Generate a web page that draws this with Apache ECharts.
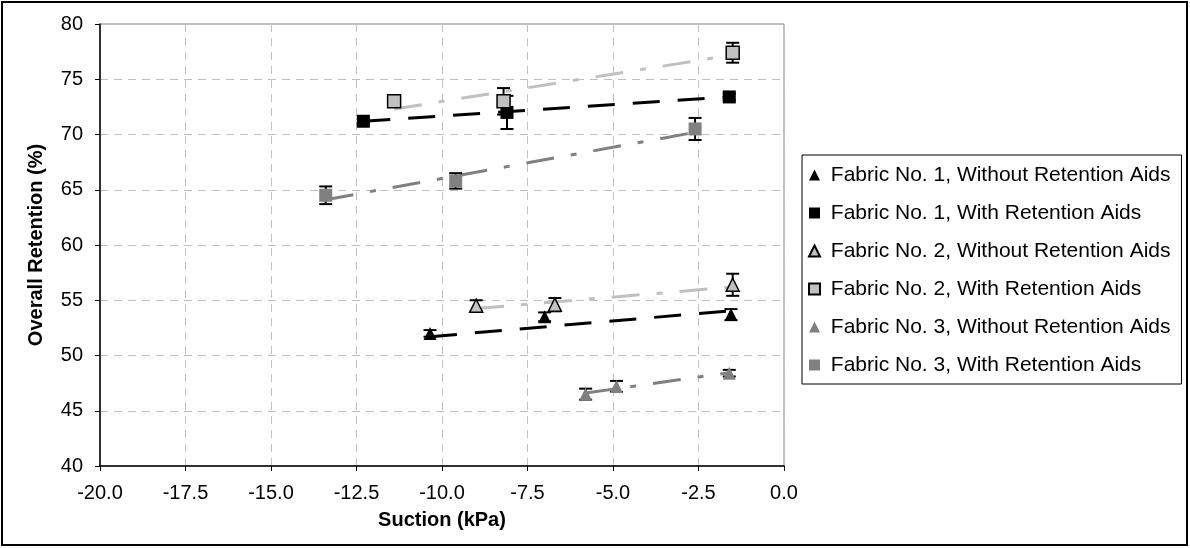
<!DOCTYPE html>
<html>
<head>
<meta charset="utf-8">
<title>Overall Retention vs Suction</title>
<script src="https://cdn.jsdelivr.net/npm/echarts@6/dist/echarts.min.js"></script>
<style>
  html, body { margin: 0; padding: 0; background: #fff; }
  #chart { width: 1190px; height: 548px; }
</style>
</head>
<body>
<div id="chart"></div>
<script>
// tick labels
var xTicks = [-20, -17.5, -15, -12.5, -10, -7.5, -5, -2.5, 0];
var yTicks = [40, 45, 50, 55, 60, 65, 70, 75, 80];

var seriesNames = [
  'Fabric No. 1, Without Retention Aids',
  'Fabric No. 1, With Retention Aids',
  'Fabric No. 2, Without Retention Aids',
  'Fabric No. 2, With Retention Aids',
  'Fabric No. 3, Without Retention Aids',
  'Fabric No. 3, With Retention Aids'
];

// measured points (suction kPa, retention %, error +/-)
var f1WithoutX = [-10.35, -7.0, -1.55];
var f1WithoutY = [52.0, 53.5, 53.7];
var f1WithoutErr = [0.3, 0.4, 0.5];

var f1WithX = [-12.3, -8.1, -1.6];
var f1WithY = [71.2, 72.0, 73.4];
var f1WithErr = [0.2, 1.5, 0.3];

var f2WithoutX = [-9.0, -6.7, -1.5];
var f2WithoutY = [54.5, 54.6, 56.4];
var f2WithoutErr = [0.5, 0.6, 1.0];

var f2WithX = [-11.4, -8.2, -1.5];
var f2WithY = [73.0, 73.0, 77.4];
var f2WithErr = [0.5, 1.2, 0.9];

var f3WithoutX = [-5.8, -4.9, -1.6];
var f3WithoutY = [46.5, 47.2, 48.4];
var f3WithoutErr = [0.5, 0.5, 0.3];

var f3WithX = [-13.4, -9.6, -2.6];
var f3WithY = [64.5, 65.8, 70.5];
var f3WithErr = [0.8, 0.7, 1.0];

// trendline ends (at first and last x)
var f1WithoutTrendY = [51.7, 54.05];
var f1WithTrendY = [71.2, 73.4];
var f2WithoutTrendY = [54.25, 56.2];
var f2WithTrendY = [72.3, 77.2];
var f3WithoutTrendY = [46.6, 48.45];
var f3WithTrendY = [64.1, 70.2];

var FONT = "'Liberation Sans', Arial, sans-serif";
var LIGHT = '#c0c0c0';
var DARK = '#808080';

function pts(xs, ys) {
  return xs.map(function (x, i) { return [x, ys[i]]; });
}
function errPts(xs, ys, es) {
  return xs.map(function (x, i) { return [x, ys[i], es[i]]; });
}
function trend(xs, ty) {
  return [[xs[0], ty[0]], [xs[xs.length - 1], ty[1]]];
}

function errorBars(xs, ys, es) {
  return {
    type: 'custom',
    z: 3,
    silent: true,
    data: errPts(xs, ys, es),
    renderItem: function (params, api) {
      var x = api.value(0), y = api.value(1), e = api.value(2);
      var top = api.coord([x, y + e]);
      var bot = api.coord([x, y - e]);
      var w = 6.5;
      var st = { stroke: '#000', lineWidth: 2 };
      return {
        type: 'group',
        children: [
          { type: 'line', shape: { x1: top[0], y1: top[1], x2: bot[0], y2: bot[1] }, style: st },
          { type: 'line', shape: { x1: top[0] - w, y1: top[1], x2: top[0] + w, y2: top[1] }, style: st },
          { type: 'line', shape: { x1: bot[0] - w, y1: bot[1], x2: bot[0] + w, y2: bot[1] }, style: st }
        ]
      };
    }
  };
}

function trendLine(xs, ty, color, dash) {
  return {
    type: 'line',
    z: 2,
    silent: true,
    symbol: 'none',
    data: trend(xs, ty),
    lineStyle: { color: color, width: 3, type: dash }
  };
}

function marks(name, xs, ys, symbol, fill, border) {
  return {
    name: name,
    type: 'scatter',
    z: 4,
    symbol: symbol,
    symbolSize: 13,
    data: pts(xs, ys),
    itemStyle: { color: fill, borderColor: border || fill, borderWidth: border ? 1.5 : 0, opacity: 1 }
  };
}

var dashLong = [27, 18];
var dashDot = [28, 17, 6, 17];

var chart = echarts.init(document.getElementById('chart'));
chart.setOption({
  animation: false,
  backgroundColor: '#fff',
  textStyle: { fontFamily: FONT, color: '#000' },
  graphic: [{
    type: 'rect',
    shape: { x: 2, y: 2, width: 1185, height: 543 },
    style: { fill: null, stroke: '#000', lineWidth: 2 },
    z: 100
  }],
  grid: {
    left: 100, right: 406, top: 24, bottom: 82,
    show: true, borderColor: DARK, borderWidth: 1, backgroundColor: '#fff'
  },
  legend: {
    orient: 'vertical',
    left: 802, top: 155,
    data: seriesNames,
    itemWidth: 11, itemHeight: 11,
    itemGap: 16,
    padding: [9, 11, 8, 6],
    borderColor: '#000', borderWidth: 1,
    backgroundColor: '#fff',
    formatter: function (name) { return ' ' + name; },
    textStyle: { fontFamily: FONT, fontSize: 21, color: '#000', lineHeight: 22 }
  },
  xAxis: {
    type: 'value',
    min: xTicks[0], max: xTicks[xTicks.length - 1], interval: 2.5,
    name: 'Suction (kPa)',
    nameLocation: 'middle',
    nameGap: 44,
    nameTextStyle: { fontFamily: FONT, fontSize: 20, fontWeight: 'bold', color: '#000' },
    axisLine: { onZero: false, lineStyle: { color: '#000', width: 1.5 } },
    axisTick: { show: true, length: 5, lineStyle: { color: '#000' } },
    axisLabel: { fontSize: 20, color: '#000', margin: 17, formatter: function (v) { return v.toFixed(1); } },
    splitLine: { show: true, lineStyle: { color: LIGHT, type: [8, 6] } }
  },
  yAxis: {
    type: 'value',
    min: yTicks[0], max: yTicks[yTicks.length - 1], interval: 5,
    name: 'Overall Retention (%)',
    nameLocation: 'middle',
    nameGap: 54,
    nameTextStyle: { fontFamily: FONT, fontSize: 20, fontWeight: 'bold', color: '#000' },
    axisLine: { show: true, onZero: false, lineStyle: { color: '#000', width: 1.5 } },
    axisTick: { show: true, length: 5, lineStyle: { color: '#000' } },
    axisLabel: { fontSize: 20, color: '#000', margin: 17 },
    splitLine: { show: true, lineStyle: { color: LIGHT, type: [8, 6] } }
  },
  series: [
    trendLine(f1WithoutX, f1WithoutTrendY, '#000', dashLong),
    trendLine(f1WithX, f1WithTrendY, '#000', dashLong),
    trendLine(f2WithoutX, f2WithoutTrendY, LIGHT, dashDot),
    trendLine(f2WithX, f2WithTrendY, LIGHT, dashDot),
    trendLine(f3WithoutX, f3WithoutTrendY, DARK, dashDot),
    trendLine(f3WithX, f3WithTrendY, DARK, dashDot),
    errorBars(f1WithoutX, f1WithoutY, f1WithoutErr),
    errorBars(f1WithX, f1WithY, f1WithErr),
    errorBars(f2WithoutX, f2WithoutY, f2WithoutErr),
    errorBars(f2WithX, f2WithY, f2WithErr),
    errorBars(f3WithoutX, f3WithoutY, f3WithoutErr),
    errorBars(f3WithX, f3WithY, f3WithErr),
    marks(seriesNames[0], f1WithoutX, f1WithoutY, 'triangle', '#000'),
    marks(seriesNames[1], f1WithX, f1WithY, 'rect', '#000'),
    marks(seriesNames[2], f2WithoutX, f2WithoutY, 'triangle', LIGHT, '#000'),
    marks(seriesNames[3], f2WithX, f2WithY, 'rect', LIGHT, '#000'),
    marks(seriesNames[4], f3WithoutX, f3WithoutY, 'triangle', DARK),
    marks(seriesNames[5], f3WithX, f3WithY, 'rect', DARK)
  ]
});
</script>
</body>
</html>
